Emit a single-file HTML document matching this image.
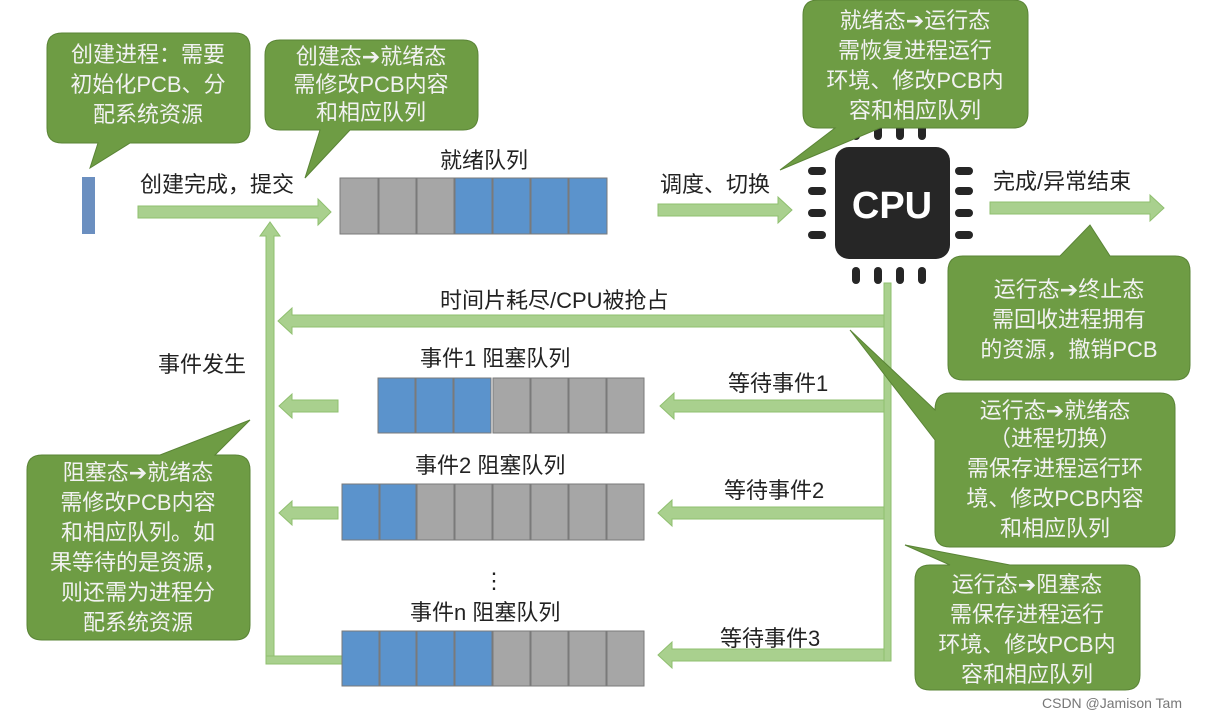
<!DOCTYPE html>
<html><head><meta charset="utf-8"><style>
body{margin:0;background:#fff;}
svg text{font-family:"Liberation Sans","Noto Sans CJK SC",sans-serif;}
.ar{font-family:"DejaVu Sans",sans-serif;font-weight:bold;}
</style></head><body>
<svg width="1211" height="718" xmlns="http://www.w3.org/2000/svg">
<defs>
<g id="pinv"><rect x="-4" y="0" width="8" height="17" rx="4" fill="#262626"/></g>
<g id="pinh"><rect x="0" y="-4" width="18" height="8" rx="4" fill="#262626"/></g>
</defs>
<g fill="#a9d08e" stroke="#8fbf6f" stroke-width="1">
<polygon points="138,206 318,206 318,199 331,212 318,225 318,218 138,218"/>
<polygon points="658,204 778,204 778,197 792,210 778,223 778,216 658,216"/>
<polygon points="990,202 1150,202 1150,195 1164,208 1150,221 1150,214 990,214"/>
<polygon points="888,315 292,315 292,308 278,321 292,334 292,327 888,327"/>
<polygon points="888,400 674,400 674,393 660,406 674,419 674,412 888,412"/>
<polygon points="888,507 672,507 672,500 658,513 672,526 672,519 888,519"/>
<polygon points="888,649 672,649 672,642 658,655 672,668 672,661 888,661"/>
<polygon points="338,400 292,400 292,394 279,406 292,418 292,412 338,412"/>
<polygon points="338,507 292,507 292,501 279,513 292,525 292,519 338,519"/>
<rect x="884" y="283" width="7" height="378"/>
<polygon points="266,664 266,236 260,236 270,222 280,236 274,236 274,664"/>
<rect x="266" y="656" width="80" height="8"/>
</g>
<rect x="82" y="177" width="13" height="57" fill="#6b8fc0"/>
<g stroke="#7a7a7a" stroke-width="1">
<rect x="340" y="178" width="38" height="56" fill="#a6a6a6"/>
<rect x="379" y="178" width="37" height="56" fill="#a6a6a6"/>
<rect x="417" y="178" width="37" height="56" fill="#a6a6a6"/>
<rect x="455" y="178" width="37" height="56" fill="#5b93cc"/>
<rect x="493" y="178" width="37" height="56" fill="#5b93cc"/>
<rect x="531" y="178" width="37" height="56" fill="#5b93cc"/>
<rect x="569" y="178" width="38" height="56" fill="#5b93cc"/>
<rect x="378" y="378" width="37" height="55" fill="#5b93cc"/>
<rect x="416" y="378" width="37" height="55" fill="#5b93cc"/>
<rect x="454" y="378" width="37" height="55" fill="#5b93cc"/>
<rect x="493" y="378" width="37" height="55" fill="#a6a6a6"/>
<rect x="531" y="378" width="37" height="55" fill="#a6a6a6"/>
<rect x="569" y="378" width="37" height="55" fill="#a6a6a6"/>
<rect x="607" y="378" width="37" height="55" fill="#a6a6a6"/>
<rect x="342" y="484" width="37" height="56" fill="#5b93cc"/>
<rect x="380" y="484" width="36" height="56" fill="#5b93cc"/>
<rect x="417" y="484" width="37" height="56" fill="#a6a6a6"/>
<rect x="455" y="484" width="37" height="56" fill="#a6a6a6"/>
<rect x="493" y="484" width="37" height="56" fill="#a6a6a6"/>
<rect x="531" y="484" width="37" height="56" fill="#a6a6a6"/>
<rect x="569" y="484" width="37" height="56" fill="#a6a6a6"/>
<rect x="607" y="484" width="37" height="56" fill="#a6a6a6"/>
<rect x="342" y="631" width="37" height="55" fill="#5b93cc"/>
<rect x="380" y="631" width="36" height="55" fill="#5b93cc"/>
<rect x="417" y="631" width="37" height="55" fill="#5b93cc"/>
<rect x="455" y="631" width="37" height="55" fill="#5b93cc"/>
<rect x="493" y="631" width="37" height="55" fill="#a6a6a6"/>
<rect x="531" y="631" width="37" height="55" fill="#a6a6a6"/>
<rect x="569" y="631" width="37" height="55" fill="#a6a6a6"/>
<rect x="607" y="631" width="37" height="55" fill="#a6a6a6"/>
</g>
<rect x="835" y="147" width="115" height="112" rx="14" fill="#262626"/>
<text x="892" y="218" font-size="38" font-weight="bold" fill="#fff" text-anchor="middle">CPU</text>
<use href="#pinh" x="808" y="171"/><use href="#pinh" x="808" y="191"/><use href="#pinh" x="808" y="213"/><use href="#pinh" x="808" y="235"/>
<use href="#pinh" x="955" y="171"/><use href="#pinh" x="955" y="191"/><use href="#pinh" x="955" y="213"/><use href="#pinh" x="955" y="235"/>
<use href="#pinv" x="856" y="267"/><use href="#pinv" x="878" y="267"/><use href="#pinv" x="900" y="267"/><use href="#pinv" x="922" y="267"/>
<use href="#pinv" x="856" y="123"/><use href="#pinv" x="878" y="123"/><use href="#pinv" x="900" y="123"/><use href="#pinv" x="922" y="123"/>
<g font-size="22" fill="#222">
<text x="140" y="192">创建完成，提交</text>
<text x="440" y="168">就绪队列</text>
<text x="660" y="192">调度、切换</text>
<text x="993" y="189">完成/异常结束</text>
<text x="440" y="308">时间片耗尽/CPU被抢占</text>
<text x="420" y="366">事件1 阻塞队列</text>
<text x="415" y="473">事件2 阻塞队列</text>
<text x="410" y="620">事件n 阻塞队列</text>
<text x="158" y="372">事件发生</text>
<text x="728" y="391">等待事件1</text>
<text x="724" y="498">等待事件2</text>
<text x="720" y="646">等待事件3</text>
<text x="483" y="588" font-size="22">⋮</text>
</g>
<g fill="#6e9c44" stroke="#5a8436" stroke-width="1">
<path d="M62,33 H235 Q250,33 250,48 V128 Q250,143 235,143 H130 L90,168 L98,143 H62 Q47,143 47,128 V48 Q47,33 62,33Z"/>
<path d="M280,40 H463 Q478,40 478,55 V115 Q478,130 463,130 H350 L305,178 L320,130 H280 Q265,130 265,115 V55 Q265,40 280,40Z"/>
<path d="M818,0 H1013 Q1028,0 1028,15 V113 Q1028,128 1013,128 H880 L780,170 L835,128 H818 Q803,128 803,113 V15 Q803,0 818,0Z"/>
<path d="M963,256 H1060 L1090,225 L1110,256 H1175 Q1190,256 1190,271 V365 Q1190,380 1175,380 H963 Q948,380 948,365 V271 Q948,256 963,256Z"/>
<path d="M950,393 H1160 Q1175,393 1175,408 V532 Q1175,547 1160,547 H950 Q935,547 935,532 V440 L850,330 L935,410 Q935,393 950,393Z"/>
<path d="M42,455 H160 L250,420 L215,455 H235 Q250,455 250,470 V625 Q250,640 235,640 H42 Q27,640 27,625 V470 Q27,455 42,455Z"/>
<path d="M930,565 H950 L905,545 L1010,565 H1125 Q1140,565 1140,580 V675 Q1140,690 1125,690 H930 Q915,690 915,675 V580 Q915,565 930,565Z"/>
</g>
<g font-size="22" fill="#f2f2f2" text-anchor="middle">
<text x="148" y="62">创建进程：需要</text>
<text x="148" y="92">初始化PCB、分</text>
<text x="148" y="122">配系统资源</text>
<text x="371" y="64">创建态<tspan class="ar">➔</tspan>就绪态</text>
<text x="371" y="92">需修改PCB内容</text>
<text x="371" y="120">和相应队列</text>
<text x="915" y="28">就绪态<tspan class="ar">➔</tspan>运行态</text>
<text x="915" y="58">需恢复进程运行</text>
<text x="915" y="88">环境、修改PCB内</text>
<text x="915" y="118">容和相应队列</text>
<text x="1069" y="297">运行态<tspan class="ar">➔</tspan>终止态</text>
<text x="1069" y="327">需回收进程拥有</text>
<text x="1069" y="357">的资源，撤销PCB</text>
<text x="1055" y="418">运行态<tspan class="ar">➔</tspan>就绪态</text>
<text x="1055" y="446">（进程切换）</text>
<text x="1055" y="476">需保存进程运行环</text>
<text x="1055" y="506">境、修改PCB内容</text>
<text x="1055" y="536">和相应队列</text>
<text x="138" y="480">阻塞态<tspan class="ar">➔</tspan>就绪态</text>
<text x="138" y="510">需修改PCB内容</text>
<text x="138" y="540">和相应队列。如</text>
<text x="138" y="570">果等待的是资源，</text>
<text x="138" y="600">则还需为进程分</text>
<text x="138" y="630">配系统资源</text>
<text x="1027" y="592">运行态<tspan class="ar">➔</tspan>阻塞态</text>
<text x="1027" y="622">需保存进程运行</text>
<text x="1027" y="652">环境、修改PCB内</text>
<text x="1027" y="682">容和相应队列</text>
</g>
<text x="1042" y="708" font-size="14" fill="#777">CSDN @Jamison Tam</text>
</svg>
</body></html>
